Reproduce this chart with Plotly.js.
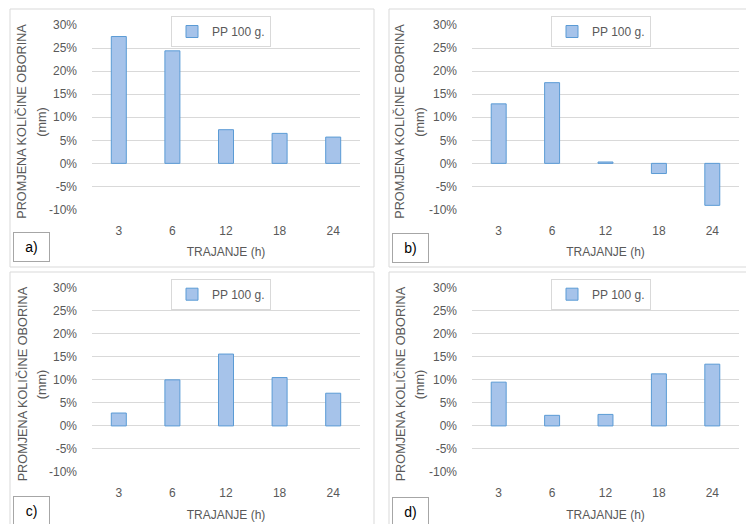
<!DOCTYPE html>
<html>
<head>
<meta charset="utf-8">
<script src="https://cdn.plot.ly/plotly-3.0.1.min.js"></script>
<style>html,body{margin:0;padding:0;background:#fff;}#chart{width:746px;height:524px;}</style>
</head>
<body>
<div id="chart"></div>
<script>
// ---- data ----
const categories = ['3', '6', '12', '18', '24'];
const seriesName = 'PP 100 g.';
const valuesA = [0.275, 0.244, 0.073, 0.065, 0.057];
const valuesB = [0.129, 0.175, 0.003, -0.022, -0.091];
const valuesC = [0.028, 0.100, 0.156, 0.105, 0.071];
const valuesD = [0.095, 0.023, 0.025, 0.113, 0.134];
const panelLabels = ['a)', 'b)', 'c)', 'd)'];
const yTickVals = [-0.10, -0.05, 0, 0.05, 0.10, 0.15, 0.20, 0.25, 0.30];
const yTickText = ['-10%', '-5%', '0%', '5%', '10%', '15%', '20%', '25%', '30%'];
const xTitle = 'TRAJANJE (h)';
const yTitleLine1 = 'PROMJENA KOLIČINE OBORINA';
const yTitleLine2 = '(mm)';

// ---- layout helpers ----
const W = 746, H = 524;
const px = v => v / W;
const py = v => 1 - v / H;
const FONT = 'Liberation Sans, Arial, sans-serif';
const GREY = '#595959';

const panels = [
  {vals: valuesA, x0: 92, x1: 360, yTop: 25, yBot: 209.5, box: [10, 9, 374, 267], t1: 22, t2: 42, lblTop: 232},
  {vals: valuesB, x0: 472, x1: 739, yTop: 25, yBot: 209.5, box: [389, 9, 760, 267], t1: 400, t2: 420, lblTop: 233},
  {vals: valuesC, x0: 92, x1: 360, yTop: 287.7, yBot: 472, box: [10, 272, 374, 540], t1: 22, t2: 42, lblTop: 496},
  {vals: valuesD, x0: 472, x1: 739, yTop: 287.7, yBot: 472, box: [389, 272, 760, 540], t1: 400, t2: 420, lblTop: 497}
];

const data = [];
const layout = {
  width: W, height: H,
  margin: {l: 0, r: 0, t: 0, b: 0},
  paper_bgcolor: '#ffffff', plot_bgcolor: 'rgba(0,0,0,0)',
  font: {family: FONT, size: 12, color: GREY},
  bargap: 0.72,
  shapes: [], annotations: []
};

panels.forEach((p, i) => {
  const n = i + 1;
  const xa = 'x' + (n === 1 ? '' : n), ya = 'y' + (n === 1 ? '' : n);
  const lg = 'legend' + (n === 1 ? '' : n);
  data.push({
    type: 'bar', x: categories, y: p.vals, name: seriesName,
    xaxis: xa, yaxis: ya, legend: lg, showlegend: true,
    marker: {color: '#a6c3ea', line: {color: '#5b9bd5', width: 1}},
    hoverinfo: 'skip'
  });
  layout['xaxis' + (n === 1 ? '' : n)] = {
    domain: [px(p.x0), px(p.x1)], anchor: ya, type: 'category',
    showgrid: false, zeroline: false, showline: false, ticks: '',
    ticklabelstandoff: 12,
    tickfont: {family: FONT, size: 12, color: GREY},
    title: {text: xTitle, font: {family: FONT, size: 12, color: GREY}, standoff: 11}
  };
  layout['yaxis' + (n === 1 ? '' : n)] = {
    domain: [py(p.yBot), py(p.yTop)], anchor: xa,
    range: [-0.10, 0.30], tickvals: yTickVals, ticktext: yTickText,
    showgrid: true, gridcolor: '#d9d9d9', gridwidth: 1,
    zeroline: false, showline: false, ticks: '',
    ticklabelstandoff: 14,
    tickfont: {family: FONT, size: 12, color: GREY}
  };
  layout[lg] = {
    x: px(p.x0 + 79), y: py(p.yTop - 9), xanchor: 'left', yanchor: 'top',
    xref: 'paper', yref: 'paper',
    bgcolor: '#ffffff', bordercolor: '#d9d9d9', borderwidth: 1,
    font: {family: FONT, size: 12, color: GREY},
    itemclick: false, itemdoubleclick: false
  };
  const b = p.box;
  layout.shapes.push({
    type: 'rect', xref: 'paper', yref: 'paper', layer: 'below',
    x0: px(b[0]), x1: px(b[2]), y0: py(b[3]), y1: py(b[1]),
    line: {color: '#d9d9d9', width: 1}, fillcolor: 'rgba(0,0,0,0)'
  });
  const yMid = (p.yTop + p.yBot) / 2 + 4.5;
  layout.annotations.push({
    xref: 'paper', yref: 'paper', x: px(p.t1), y: py(yMid),
    xanchor: 'center', yanchor: 'middle', showarrow: false, textangle: -90,
    text: yTitleLine1, font: {family: FONT, size: 12.7, color: GREY}
  });
  layout.annotations.push({
    xref: 'paper', yref: 'paper', x: px(p.t2), y: py(yMid),
    xanchor: 'center', yanchor: 'middle', showarrow: false, textangle: -90,
    text: yTitleLine2, font: {family: FONT, size: 12.7, color: GREY}
  });
  layout.annotations.push({
    xref: 'paper', yref: 'paper', x: px(b[0] + 3), y: py(p.lblTop),
    xanchor: 'left', yanchor: 'top', showarrow: false,
    text: panelLabels[i], align: 'center', width: 31, height: 24,
    borderpad: 2, bgcolor: '#ffffff', bordercolor: '#a6a6a6', borderwidth: 1,
    font: {family: FONT, size: 14, color: '#000000'}
  });
});

Plotly.newPlot('chart', data, layout, {staticPlot: true});
</script>
</body>
</html>
